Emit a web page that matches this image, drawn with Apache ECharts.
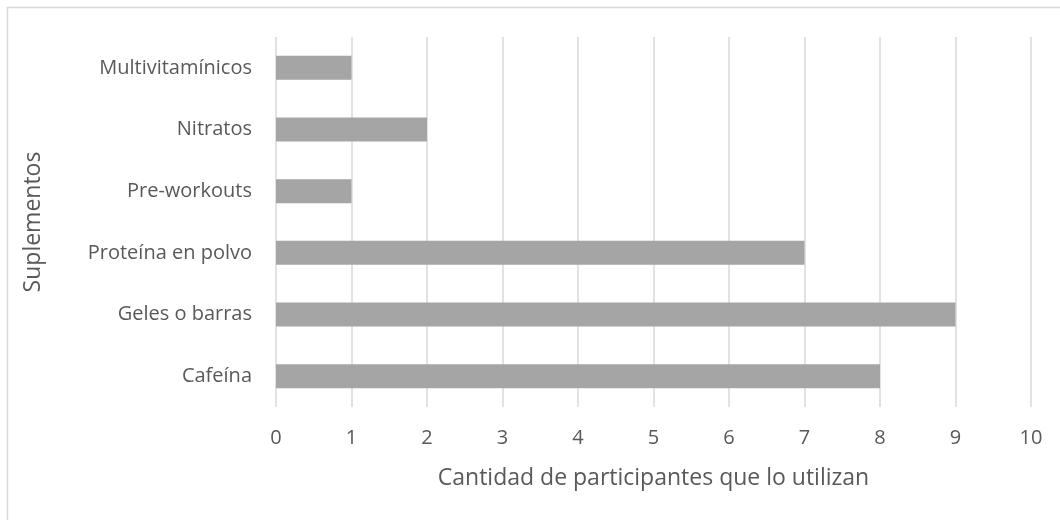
<!DOCTYPE html>
<html>
<head>
<meta charset="utf-8">
<script src="https://cdn.jsdelivr.net/npm/echarts@6/dist/echarts.min.js"></script>
<style>
  html, body { margin: 0; padding: 0; background: #fff; }
  #chart { width: 1060px; height: 520px; }
</style>
</head>
<body>
<div id="chart"></div>
<script>
// Supplement categories, bottom to top
const categories = ['Cafeína', 'Geles o barras', 'Proteína en polvo', 'Pre-workouts', 'Nitratos', 'Multivitamínicos'];
// Number of participants using each supplement
const values = [8, 9, 7, 1, 2, 1];
const xTicks = [0, 1, 2, 3, 4, 5, 6, 7, 8, 9, 10];

const font = "'Open Sans', 'Liberation Sans', sans-serif";
const textColor = '#595959';

const chart = echarts.init(document.getElementById('chart'), null, { renderer: 'canvas' });
chart.setOption({
  animation: false,
  backgroundColor: '#fff',
  graphic: [{
    type: 'rect',
    shape: { x: 7.5, y: 7.5, width: 1200, height: 700 },
    style: { fill: 'none', stroke: '#d9d9d9', lineWidth: 1.5 },
    silent: true
  }],
  grid: { left: 276, right: 29, top: 37, bottom: 113, containLabel: false },
  xAxis: {
    type: 'value',
    min: xTicks[0],
    max: xTicks[xTicks.length - 1],
    interval: 1,
    name: 'Cantidad de participantes que lo utilizan',
    nameLocation: 'middle',
    nameGap: 60,
    nameTextStyle: { fontFamily: font, fontSize: 23, color: textColor },
    axisLine: { show: false },
    axisTick: { show: false },
    axisLabel: { fontFamily: font, fontSize: 20, color: textColor, margin: 21 },
    splitLine: { show: true, lineStyle: { color: '#d9d9d9', width: 1.5 } }
  },
  yAxis: {
    type: 'category',
    data: categories,
    name: 'Suplementos',
    nameLocation: 'middle',
    nameGap: 231,
    nameRotate: 90,
    nameTextStyle: { fontFamily: font, fontSize: 23, color: textColor },
    axisLine: { show: false },
    axisTick: { show: false },
    axisLabel: { fontFamily: font, fontSize: 20, color: textColor, margin: 24 },
    splitLine: { show: false }
  },
  series: [{
    type: 'bar',
    data: values,
    barWidth: 24,
    itemStyle: { color: '#a5a5a5' },
    silent: true
  }]
});
</script>
</body>
</html>
